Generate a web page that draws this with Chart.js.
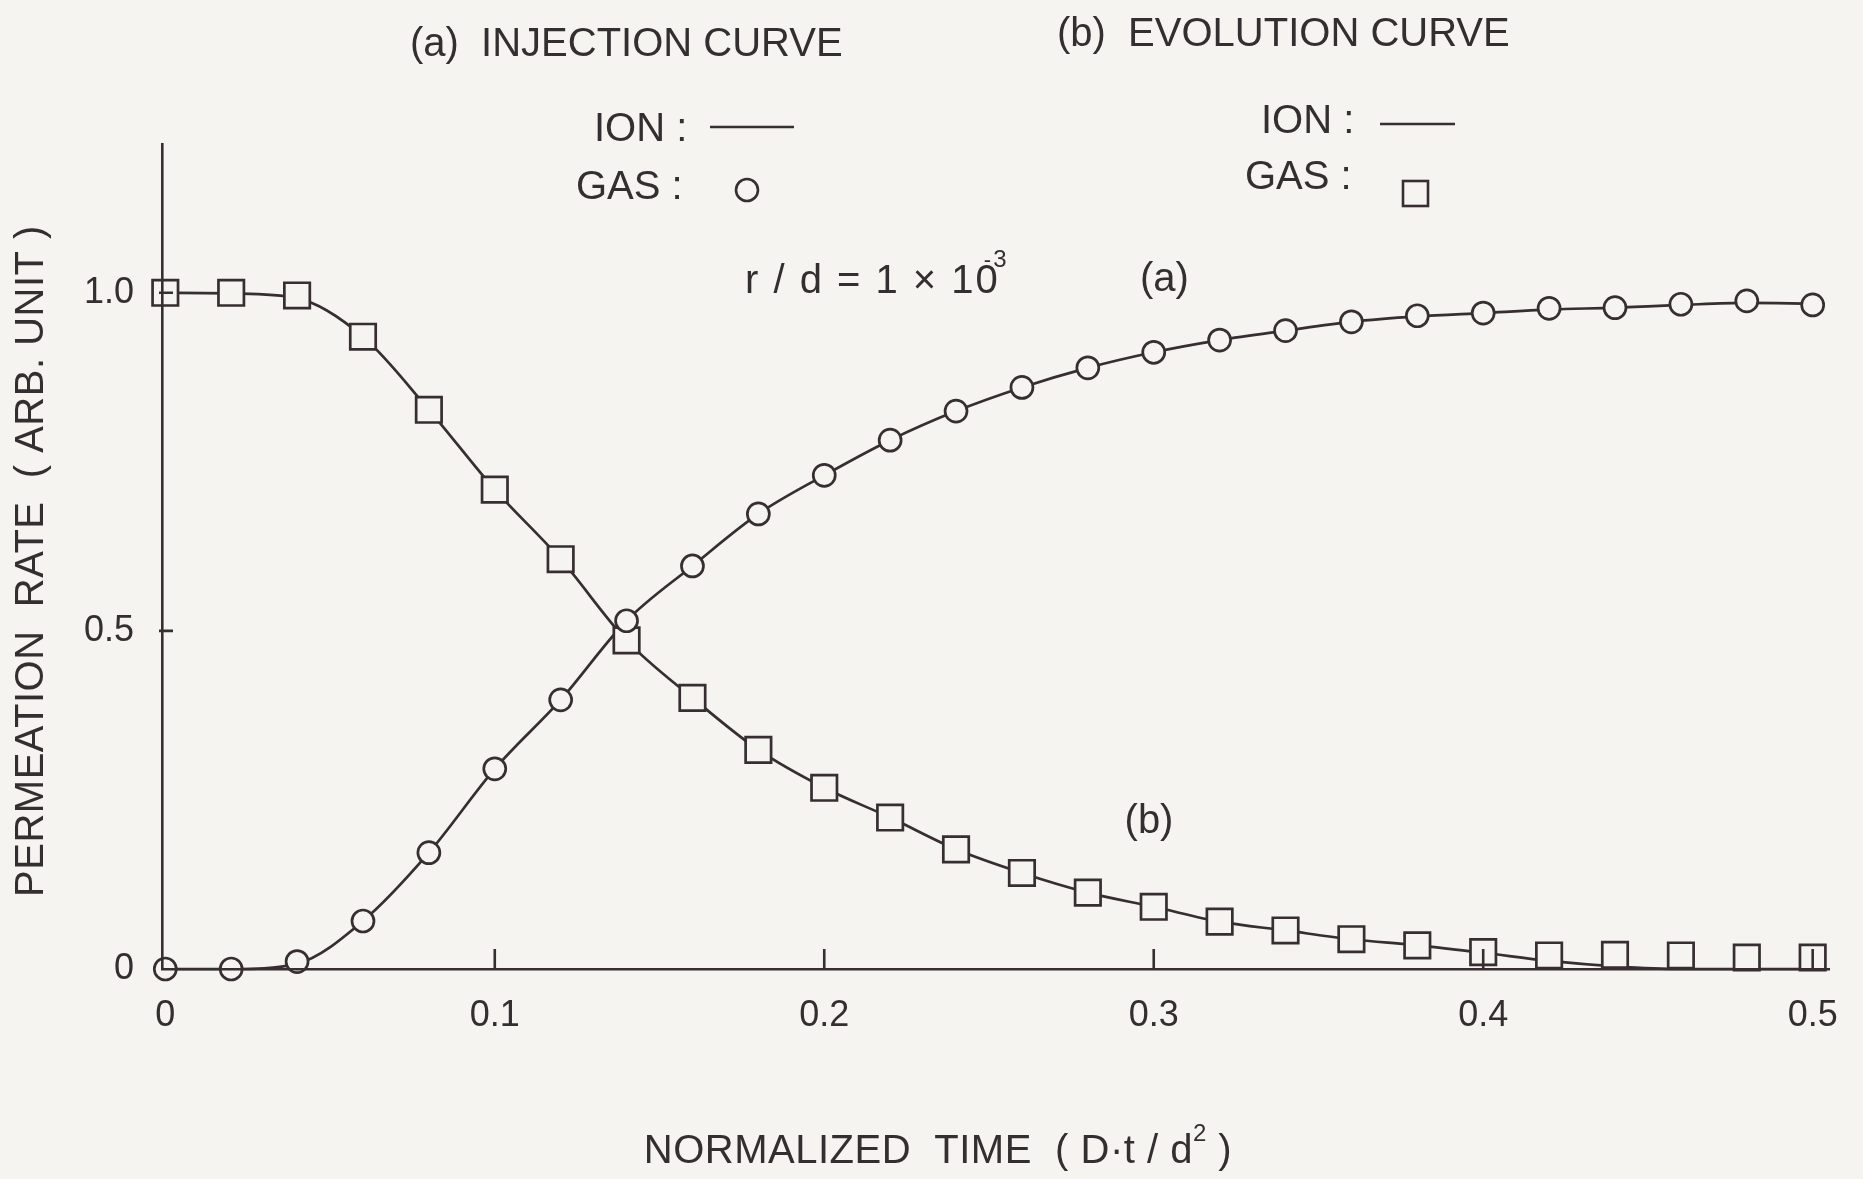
<!DOCTYPE html>
<html lang="en">
<head>
<meta charset="utf-8">
<title>Permeation rate</title>
<script src="https://cdn.jsdelivr.net/npm/chart.js@4.4.1/dist/chart.umd.min.js"></script>
<style>
  html, body { margin: 0; padding: 0; background: #f5f4f1; }
  canvas { display: block; }
</style>
</head>
<body>
<canvas id="graficoPermeacion" width="1863" height="1179"></canvas>
<script>
// Datos (tiempo normalizado D·t / d²)
const tiempos = [0, 0.02, 0.04, 0.06, 0.08, 0.10, 0.12, 0.14, 0.16, 0.18, 0.20, 0.22, 0.24,
                 0.26, 0.28, 0.30, 0.32, 0.34, 0.36, 0.38, 0.40, 0.42, 0.44, 0.46, 0.48, 0.50];

// (a) curva de inyeccion
const gasInyeccion = [0, 0, 0.011, 0.071, 0.172, 0.296, 0.398, 0.515, 0.596, 0.673, 0.730, 0.782, 0.825,
                      0.860, 0.889, 0.912, 0.930, 0.944, 0.957, 0.966, 0.970, 0.977, 0.978, 0.983, 0.988, 0.982];
const ionInyeccion = [0, 0, 0.008, 0.071, 0.172, 0.296, 0.398, 0.515, 0.596, 0.673, 0.730, 0.782, 0.825,
                      0.860, 0.889, 0.912, 0.930, 0.944, 0.957, 0.965, 0.970, 0.975, 0.978, 0.982, 0.985, 0.984];

// (b) curva de evolucion
const gasEvolucion = [1.0, 1.0, 0.996, 0.935, 0.827, 0.709, 0.606, 0.486, 0.401, 0.324, 0.268, 0.224, 0.177,
                      0.142, 0.113, 0.092, 0.070, 0.057, 0.044, 0.035, 0.025, 0.020, 0.021, 0.020, 0.017, 0.017];
const ionEvolucion = [1.0, 0.999, 0.992, 0.935, 0.827, 0.709, 0.606, 0.486, 0.401, 0.324, 0.268, 0.224, 0.177,
                      0.142, 0.113, 0.092, 0.070, 0.057, 0.044, 0.035, 0.024, 0.012, 0.004, 0, 0, 0];

// Etiquetas de los ejes
const ticksX = [0, 0.1, 0.2, 0.3, 0.4, 0.5];
const ticksY = [0, 0.5, 1.0];
const marcasX = [0.1, 0.2, 0.3, 0.4, 0.5];
const marcasY = [0.5, 1.0];

const COLOR_LINEA = '#362e30';
const COLOR_TEXTO = '#332e2f';
const COLOR_FONDO = '#f5f4f1';
const FUENTE = '"Liberation Sans", Arial, sans-serif';

// Escribir un texto (con superindice opcional)
function escribir(c, partes, x, y, alinear, espaciado) {
    c.letterSpacing = espaciado || '0px';
    let ancho = 0;
    partes.forEach(p => {
        c.font = `${p.tam}px ${FUENTE}`;
        ancho += c.measureText(p.texto).width + (p.dx || 0);
    });
    let px = alinear === 'center' ? x - ancho / 2 : x;
    c.textAlign = 'left';
    c.textBaseline = 'middle';
    partes.forEach(p => {
        c.font = `${p.tam}px ${FUENTE}`;
        px += (p.dx || 0);
        c.fillText(p.texto, px, y + (p.dy || 0));
        px += c.measureText(p.texto).width;
    });
    c.letterSpacing = '0px';
}

// Plugin para fondo, marcas internas y textos de la figura
const decoraciones = {
    id: 'decoraciones',
    beforeDraw(chart) {
        const c = chart.ctx;
        c.save();
        c.fillStyle = COLOR_FONDO;
        c.fillRect(0, 0, chart.width, chart.height);
        c.restore();
    },
    afterDraw(chart) {
        const c = chart.ctx;
        const ejeX = chart.scales.x;
        const ejeY = chart.scales.y;
        c.save();
        c.strokeStyle = COLOR_LINEA;
        c.lineWidth = 2.6;
        c.beginPath();
        marcasX.forEach(v => {
            const px = ejeX.getPixelForValue(v);
            c.moveTo(px, ejeY.bottom);
            c.lineTo(px, ejeY.bottom - 20);
        });
        marcasY.forEach(v => {
            const py = ejeY.getPixelForValue(v);
            c.moveTo(ejeX.left - 3, py);
            c.lineTo(ejeX.left + 11, py);
        });
        c.stroke();

        c.fillStyle = COLOR_TEXTO;
        escribir(c, [{ texto: '(a)  INJECTION CURVE', tam: 40 }], 410, 45);
        escribir(c, [{ texto: '(b)  EVOLUTION CURVE', tam: 40 }], 1057, 35);

        // Leyenda (a)
        escribir(c, [{ texto: 'ION :', tam: 40 }], 594, 130);
        escribir(c, [{ texto: 'GAS :', tam: 40 }], 576, 188);
        c.beginPath();
        c.moveTo(710, 127);
        c.lineTo(794, 127);
        c.stroke();
        c.beginPath();
        c.arc(747, 190, 11, 0, Math.PI * 2);
        c.stroke();

        // Leyenda (b)
        escribir(c, [{ texto: 'ION :', tam: 40 }], 1261, 122);
        escribir(c, [{ texto: 'GAS :', tam: 40 }], 1245, 178);
        c.beginPath();
        c.moveTo(1380, 124);
        c.lineTo(1455, 124);
        c.stroke();
        c.strokeRect(1403, 181, 25, 25);

        // Anotaciones
        escribir(c, [
            { texto: 'r / d = 1 × 10', tam: 40 },
            { texto: '-', tam: 22, dx: -16, dy: -21 },
            { texto: '3', tam: 24, dx: 0, dy: -22 }
        ], 745, 282, 'left', '2px');
        escribir(c, [{ texto: '(a)', tam: 40 }], 1140, 280);
        escribir(c, [{ texto: '(b)', tam: 40 }], 1149, 822, 'center');

        // Titulos de los ejes
        escribir(c, [
            { texto: 'NORMALIZED  TIME  ( D·t / d', tam: 40 },
            { texto: '2', tam: 24, dy: -18 },
            { texto: ' )', tam: 40 }
        ], 938, 1152, 'center', '0.5px');
        c.save();
        c.translate(32, 561);
        c.rotate(-Math.PI / 2);
        escribir(c, [{ texto: 'PERMEATION  RATE  ( ARB. UNIT )', tam: 40 }], 0, 0, 'center', '0.5px');
        c.restore();
        c.restore();
    }
};

// Convertir arreglos en puntos x/y
function puntos(valores) {
    return tiempos.map((t, i) => ({ x: t, y: valores[i] }));
}

function formatoEtiqueta(v) {
    return v === 0 ? '0' : v.toFixed(1);
}

const ctx = document.getElementById("graficoPermeacion").getContext("2d");

new Chart(ctx, {
    type: 'scatter',
    data: {
        datasets: [
            {
                label: 'GAS (a)',
                data: puntos(gasInyeccion),
                showLine: false,
                pointStyle: 'circle',
                pointRadius: 11,
                pointBorderWidth: 2.7,
                pointBorderColor: COLOR_LINEA,
                pointBackgroundColor: COLOR_FONDO,
                order: 1,
                clip: false
            },
            {
                label: 'GAS (b)',
                data: puntos(gasEvolucion),
                showLine: false,
                pointStyle: 'rect',
                pointRadius: 18,
                pointBorderWidth: 2.7,
                pointBorderColor: COLOR_LINEA,
                pointBackgroundColor: COLOR_FONDO,
                order: 1,
                clip: false
            },
            {
                label: 'ION (a)',
                data: puntos(ionInyeccion),
                showLine: true,
                borderColor: COLOR_LINEA,
                borderWidth: 2.7,
                pointRadius: 0,
                cubicInterpolationMode: 'monotone',
                order: 2,
                clip: false
            },
            {
                label: 'ION (b)',
                data: puntos(ionEvolucion),
                showLine: true,
                borderColor: COLOR_LINEA,
                borderWidth: 2.7,
                pointRadius: 0,
                cubicInterpolationMode: 'monotone',
                order: 2,
                clip: false
            }
        ]
    },
    options: {
        responsive: false,
        devicePixelRatio: 1,
        animation: false,
        events: [],
        layout: { padding: { left: 52, right: 30, top: 144, bottom: 110 } },
        plugins: {
            legend: { display: false },
            title: { display: false },
            tooltip: { enabled: false }
        },
        scales: {
            x: {
                type: 'linear',
                min: -0.001,
                max: 0.505,
                afterBuildTicks: s => { s.ticks = ticksX.map(v => ({ value: v })); },
                afterFit: s => { s.height = 100; },
                grid: { display: false, drawTicks: false },
                border: { display: true, color: COLOR_LINEA, width: 2.6, z: 1 },
                ticks: {
                    color: COLOR_TEXTO,
                    font: { family: FUENTE, size: 36 },
                    padding: 25,
                    maxRotation: 0,
                    autoSkip: false,
                    callback: formatoEtiqueta
                }
            },
            y: {
                type: 'linear',
                min: 0,
                max: 1.22,
                afterBuildTicks: s => { s.ticks = ticksY.map(v => ({ value: v })); },
                afterFit: s => { s.width = 110; },
                grid: { display: false, drawTicks: false },
                border: { display: true, color: COLOR_LINEA, width: 2.6, z: 1 },
                ticks: {
                    color: COLOR_TEXTO,
                    font: { family: FUENTE, size: 36 },
                    padding: 28,
                    autoSkip: false,
                    callback: formatoEtiqueta
                }
            }
        }
    },
    plugins: [decoraciones]
});
</script>
</body>
</html>
